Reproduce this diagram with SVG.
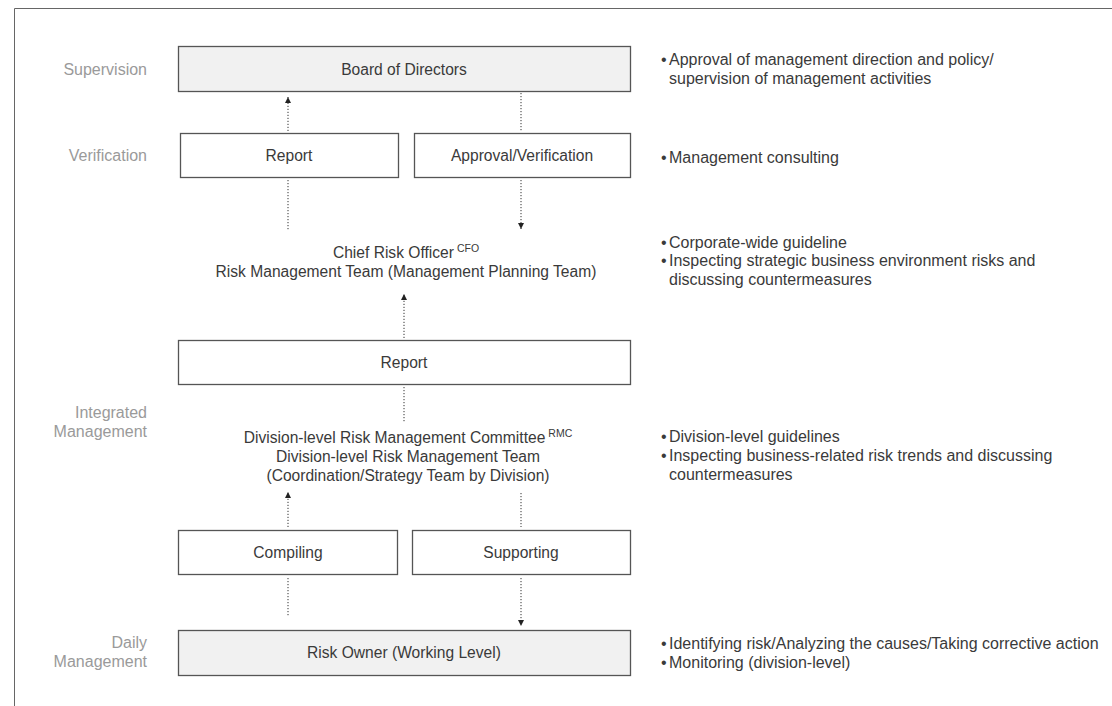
<svg xmlns="http://www.w3.org/2000/svg" width="1112" height="706" viewBox="0 0 1112 706">
<style>
text{font-family:"Liberation Sans",Arial,sans-serif;font-size:15.6px;fill:#3a3a3a}
.lbl{fill:#9a9a9a;text-anchor:end;font-size:16px}
.c{text-anchor:middle}
.n{font-size:16px}
.sup{font-size:10.5px}
.box{fill:#fff;stroke:#555;stroke-width:1.3}
.gray{fill:#f1f1f1}
.dot{stroke:#333;stroke-width:1;stroke-dasharray:1.2 1.8;fill:none}
</style>
<defs>
<marker id="ah" markerUnits="userSpaceOnUse" markerWidth="6" markerHeight="7" refX="6" refY="3" orient="auto">
<path d="M0,0 L6,3 L0,6 z" fill="#222"/>
</marker>
</defs>
<rect width="1112" height="706" fill="#fff"/>
<path d="M14.5,706 V8.5 H1112" fill="none" stroke="#666" stroke-width="1"/>

<g id="labels">
<text class="lbl" x="147" y="75">Supervision</text>
<text class="lbl" x="147" y="161">Verification</text>
<text class="lbl" x="147" y="418">Integrated</text>
<text class="lbl" x="147" y="437">Management</text>
<text class="lbl" x="147" y="648">Daily</text>
<text class="lbl" x="147" y="667">Management</text>
</g>

<g id="board">
<rect class="box gray" x="178.5" y="46.5" width="452" height="45"/>
<text class="c" x="404" y="74.5">Board of Directors</text>
</g>
<g id="report-top">
<rect class="box" x="180.5" y="133.5" width="218" height="44"/>
<text class="c" x="289" y="160.5">Report</text>
</g>
<g id="approval">
<rect class="box" x="414.5" y="133.5" width="216" height="44"/>
<text class="c" x="522" y="160.5">Approval/Verification</text>
</g>
<g id="cro">
<text class="c" x="406" y="257.5">Chief Risk Officer<tspan class="sup" dx="3" dy="-6">CFO</tspan></text>
<text class="c" x="406" y="276.5">Risk Management Team (Management Planning Team)</text>
</g>
<g id="report-mid">
<rect class="box" x="178.5" y="340.5" width="452" height="44"/>
<text class="c" x="404" y="367.5">Report</text>
</g>
<g id="division">
<text class="c" x="408" y="442.5">Division-level Risk Management Committee<tspan class="sup" dx="3" dy="-6">RMC</tspan></text>
<text class="c" x="408" y="461.5">Division-level Risk Management Team</text>
<text class="c" x="408" y="480.5">(Coordination/Strategy Team by Division)</text>
</g>
<g id="compiling">
<rect class="box" x="178.5" y="530.5" width="219" height="44"/>
<text class="c" x="288" y="557.5">Compiling</text>
</g>
<g id="supporting">
<rect class="box" x="412.5" y="530.5" width="218" height="44"/>
<text class="c" x="521" y="557.5">Supporting</text>
</g>
<g id="risk-owner">
<rect class="box gray" x="178.5" y="630.5" width="452" height="45"/>
<text class="c" x="404" y="658">Risk Owner (Working Level)</text>
</g>

<g id="connectors">
<line class="dot" x1="288" y1="131" x2="288" y2="97" marker-end="url(#ah)"/>
<line class="dot" x1="521" y1="93" x2="521" y2="131"/>
<line class="dot" x1="288" y1="180" x2="288" y2="230"/>
<line class="dot" x1="521" y1="180" x2="521" y2="229" marker-end="url(#ah)"/>
<line class="dot" x1="404" y1="338" x2="404" y2="294" marker-end="url(#ah)"/>
<line class="dot" x1="404" y1="387" x2="404" y2="423"/>
<line class="dot" x1="288" y1="527" x2="288" y2="492" marker-end="url(#ah)"/>
<line class="dot" x1="521" y1="493" x2="521" y2="527"/>
<line class="dot" x1="288" y1="578" x2="288" y2="617"/>
<line class="dot" x1="521" y1="578" x2="521" y2="626" marker-end="url(#ah)"/>
</g>

<g id="notes" class="n">
<text class="n" x="661" y="65">•<tspan x="669">Approval of management direction and policy/</tspan></text>
<text class="n" x="669" y="84">supervision of management activities</text>
<text class="n" x="661" y="163">•<tspan x="669">Management consulting</tspan></text>
<text class="n" x="661" y="248">•<tspan x="669">Corporate-wide guideline</tspan></text>
<text class="n" x="661" y="266">•<tspan x="669">Inspecting strategic business environment risks and</tspan></text>
<text class="n" x="669" y="285">discussing countermeasures</text>
<text class="n" x="661" y="442">•<tspan x="669">Division-level guidelines</tspan></text>
<text class="n" x="661" y="461">•<tspan x="669">Inspecting business-related risk trends and discussing</tspan></text>
<text class="n" x="669" y="480">countermeasures</text>
<text class="n" x="661" y="649">•<tspan x="669">Identifying risk/Analyzing the causes/Taking corrective action</tspan></text>
<text class="n" x="661" y="668">•<tspan x="669">Monitoring (division-level)</tspan></text>
</g>
</svg>
